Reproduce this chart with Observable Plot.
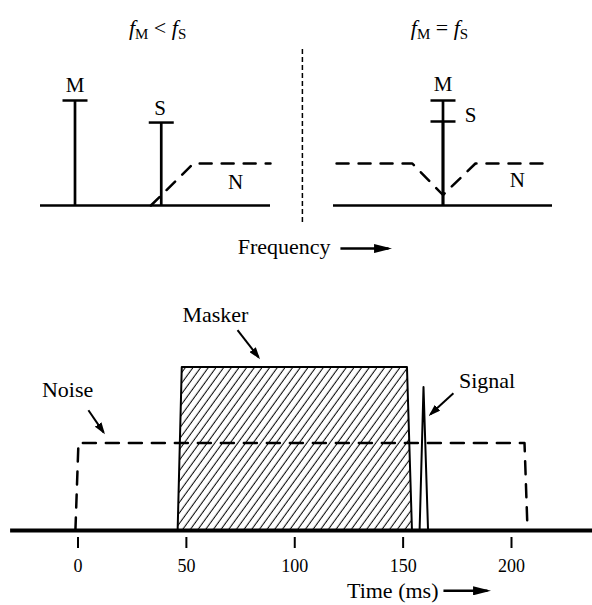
<!DOCTYPE html>
<html><head><meta charset="utf-8">
<script src="https://cdn.jsdelivr.net/npm/d3@7"></script>
<script src="https://cdn.jsdelivr.net/npm/@observablehq/plot@0.6"></script>
<style>
html,body{margin:0;padding:0;background:#fff;}
#chart{position:relative;width:592px;height:605px;overflow:hidden;background:#fff;}
#chart > svg{position:absolute;margin:0;}
</style></head><body>
<svg width="0" height="0" style="position:absolute">
<defs>
<pattern id="hatch" patternUnits="userSpaceOnUse" width="6.2" height="10" patternTransform="rotate(36)">
<line x1="3" y1="-1" x2="3" y2="11" stroke="black" stroke-width="1"/>
</pattern>
<marker id="headSmall" viewBox="0 0 10 10" refX="8" refY="5" markerUnits="userSpaceOnUse" markerWidth="12" markerHeight="8" orient="auto" preserveAspectRatio="none"><path d="M0,0L10,5L0,10Z" fill="black"/></marker>
<marker id="headBig" viewBox="0 0 10 10" refX="8" refY="5" markerUnits="userSpaceOnUse" markerWidth="18" markerHeight="9" orient="auto" preserveAspectRatio="none"><path d="M0,0L10,5L0,10Z" fill="black"/></marker>
</defs></svg>
<div id="chart"></div>
<script>
// ---------- data ----------
// top panels: frequency and level in arbitrary units
const panelTitles = ["fM < fS", "fM = fS"];
const leftTones = [{name: "M", f: 1.5, level: 10}, {name: "S", f: 5.25, level: 7.9}];
const leftNoise = [{f: 4.8, level: 0}, {f: 6.65, level: 4}, {f: 10, level: 4}];
const leftLabels = [{text: "M", f: 1.5, level: 11.45}, {text: "S", f: 5.2, level: 9.3}, {text: "N", f: 8.48, level: 2.22}];
const rightTones = [{name: "M", f: 5, level: 10}, {name: "S", f: 5, level: 8}];
const rightNoise = [{f: 0.14, level: 4}, {f: 3.6, level: 4}, {f: 5, level: 1}, {f: 6.48, level: 4}, {f: 9.9, level: 4}];
const rightLabels = [{text: "M", f: 5, level: 11.5}, {text: "S", f: 6.26, level: 8.57}, {text: "N", f: 8.39, level: 2.38}];
const freqLabel = [{text: "Frequency", f: 12.61, level: -3.95}];
const freqArrow = [{f1: 13.04, f2: 15.13, level: -4.1}];
const divider = [{f: -1.42, from: -1.62, to: 15.05}];

// bottom panel: time (ms) and level (arbitrary units)
const timeTicks = [0, 50, 100, 150, 200];
const masker = [{t: 46.2, level: 0}, {t: 48.1, level: 10}, {t: 152.0, level: 10}, {t: 154.3, level: 0}];
const noise = [{t: -1.2, level: 0}, {t: 0.2, level: 5.37}, {t: 206.0, level: 5.37}, {t: 207.4, level: 0}];
const signal = [{t: 157.6, level: 0}, {t: 159.4, level: 8.8}, {t: 161.5, level: 0}];
const timeLabels = [{text: "Masker", t: 63.4, level: 13.2}, {text: "Noise", t: -4.8, level: 8.63}, {text: "Signal", t: 188.7, level: 9.2}];
const labelArrows = [
  {t1: 73.6, l1: 12.29, t2: 83.3, l2: 10.63},
  {t1: 4.8, l1: 7.38, t2: 11.8, l2: 6.02},
  {t1: 173.2, l1: 8.42, t2: 162.6, l2: 7.13}
];
const timeAxisLabel = [{text: "Time (ms)", t: 166.3, level: -3.72}];
const timeArrow = [{t1: 168.6, t2: 188.9, level: -3.7}];
const baselineSpan = [{t1: -31.1, t2: 237.37, level: 0}];

// ---------- helpers ----------
const style = {background: "transparent", overflow: "visible", fontFamily: "'Liberation Serif', 'Times New Roman', serif", color: "black"};
const capSymbol = {draw(ctx, size) { const r = Math.sqrt(size / Math.PI); ctx.moveTo(-r, 0); ctx.lineTo(r, 0); }};
const dash = "12,10";

function topPanel(tones, noiseData, labels, title, extra, xr) {
  return Plot.plot({
    width: 296, height: 260, style,
    x: {domain: [0, 10], range: xr, axis: null},
    y: {domain: [0, 10], range: [205, 100], axis: null},
    marks: [
      Plot.ruleY([{a: 0, b: 10, level: 0}], {x1: "a", x2: "b", y: "level", strokeWidth: 2.5, stroke: "black"}),
      Plot.line(noiseData, {x: "f", y: "level", stroke: "black", strokeWidth: 2.5, strokeDasharray: dash}),
      Plot.ruleX(tones, {x: "f", y1: () => 0, y2: "level", stroke: "black", strokeWidth: 2.7}),
      Plot.dot(tones, {x: "f", y: "level", symbol: capSymbol, r: 12.5, stroke: "black", strokeWidth: 2.5, fill: "none"}),
      Plot.text(labels, {x: "f", y: "level", text: "text", fontSize: 21, fill: "black"}),
      Plot.text([title], {x: "f", y: "level", text: "text", fontSize: 22, fill: "black"}),
      ...extra
    ]
  });
}

function richTitles(svg) {
  d3.select(svg).selectAll("text").each(function() {
    const m = /^f(\w) ([<=]) f(\w)$/.exec(this.textContent);
    if (!m) return;
    const s = d3.select(this);
    s.text(null);
    s.append("tspan").attr("font-style", "italic").text("f");
    s.append("tspan").attr("font-size", 15).attr("dy", 4).text(m[1]);
    s.append("tspan").attr("dy", -4).text(" " + m[2] + " ");
    s.append("tspan").attr("font-style", "italic").text("f");
    s.append("tspan").attr("font-size", 15).attr("dy", 4).text(m[3]);
  });
}

function heads(svg, desc, id) {
  d3.select(svg).selectAll(`g[aria-description="${desc}"] path`)
    .attr("marker-end", `url(#${id})`).attr("stroke-linecap", "butt");
}

const chart = document.getElementById("chart");

// ---------- top left ----------
const tl = topPanel(leftTones, leftNoise, leftLabels, {text: panelTitles[0], f: 5.09, level: 16.95}, [
  Plot.text(freqLabel, {x: "f", y: "level", text: "text", fontSize: 22, textAnchor: "end", fill: "black"}),
  Plot.link(freqArrow, {x1: "f1", x2: "f2", y1: "level", y2: "level", stroke: "black", strokeWidth: 2.5, ariaDescription: "bigarrow"})
], [40, 270]);
richTitles(tl); heads(tl, "bigarrow", "headBig");
tl.style.left = "0px"; tl.style.top = "0px";

// ---------- top right ----------
const tr = topPanel(rightTones, rightNoise, rightLabels, {text: panelTitles[1], f: 4.84, level: 16.95}, [
  Plot.ruleX(divider, {x: "f", y1: "from", y2: "to", stroke: "black", strokeWidth: 1.5, strokeDasharray: "5,3"})
], [37, 256]);
richTitles(tr);
tr.style.left = "296px"; tr.style.top = "0px";

// ---------- bottom ----------
const bt = Plot.plot({
  width: 592, height: 325, style,
  marginTop: 87, marginBottom: 68, marginLeft: 0, marginRight: 0,
  x: {domain: [-35.76, 237.37], range: [0, 592]},
  y: {domain: [0, 10], range: [250, 87], axis: null},
  marks: [
    Plot.areaY(masker, {x: "t", y1: () => 0, y2: "level", fill: "white", stroke: "black", strokeWidth: 2, ariaDescription: "masker"}),
    Plot.line(noise, {x: "t", y: "level", stroke: "black", strokeWidth: 2.5, strokeDasharray: "13,10"}),
    Plot.line(signal, {x: "t", y: "level", stroke: "black", strokeWidth: 2}),
    Plot.ruleY(baselineSpan, {x1: "t1", x2: "t2", y: "level", stroke: "black", strokeWidth: 4}),
    Plot.axisX({ticks: timeTicks, tickSize: 11, tickPadding: 11, fontSize: 18, strokeWidth: 2, fill: "black", label: null}),
    Plot.text(timeLabels, {x: "t", y: "level", text: "text", fontSize: 22, fill: "black"}),
    Plot.link(labelArrows, {x1: "t1", y1: "l1", x2: "t2", y2: "l2", stroke: "black", strokeWidth: 2, ariaDescription: "smallarrow"}),
    Plot.text(timeAxisLabel, {x: "t", y: "level", text: "text", fontSize: 22, textAnchor: "end", fill: "black"}),
    Plot.link(timeArrow, {x1: "t1", x2: "t2", y1: "level", y2: "level", stroke: "black", strokeWidth: 2.5, ariaDescription: "bigarrow"})
  ]
});
d3.select(bt).selectAll('g[aria-description="masker"] path').attr("fill", "url(#hatch)");
heads(bt, "smallarrow", "headSmall"); heads(bt, "bigarrow", "headBig");
bt.style.left = "0px"; bt.style.top = "280px";

chart.append(tl, tr, bt);
</script>
</body></html>
